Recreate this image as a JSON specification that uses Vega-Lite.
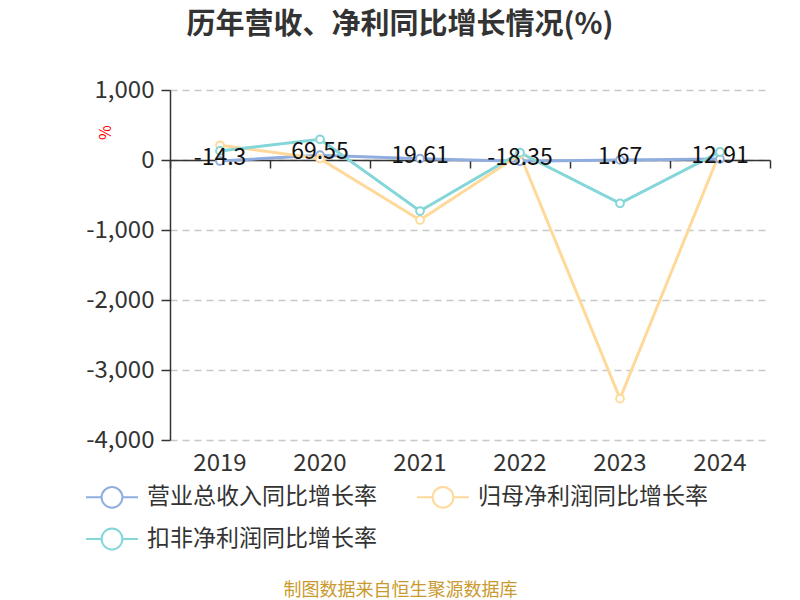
{
  "$schema": "https://vega.github.io/schema/vega-lite/v6.json",
  "width": 600,
  "height": 350,
  "autosize": {"type": "none"},
  "padding": {"left": 170, "top": 90, "right": 30, "bottom": 160},
  "background": "white",
  "config": {"font": "Noto Sans CJK SC", "view": {"stroke": null}},
  "title": {"text": "历年营收、净利同比增长情况(%)", "fontSize": 29, "fontWeight": "bold", "color": "#333333", "dx": -70, "offset": 38, "anchor": "middle"},
  "data": {"values": [
    {"year": "2019", "series": "营业总收入同比增长率", "value": -14.3},
    {"year": "2020", "series": "营业总收入同比增长率", "value": 69.55},
    {"year": "2021", "series": "营业总收入同比增长率", "value": 19.61},
    {"year": "2022", "series": "营业总收入同比增长率", "value": -18.35},
    {"year": "2023", "series": "营业总收入同比增长率", "value": 1.67},
    {"year": "2024", "series": "营业总收入同比增长率", "value": 12.91},
    {"year": "2019", "series": "归母净利润同比增长率", "value": 210},
    {"year": "2020", "series": "归母净利润同比增长率", "value": 20},
    {"year": "2021", "series": "归母净利润同比增长率", "value": -857},
    {"year": "2022", "series": "归母净利润同比增长率", "value": 80},
    {"year": "2023", "series": "归母净利润同比增长率", "value": -3409},
    {"year": "2024", "series": "归母净利润同比增长率", "value": 115},
    {"year": "2019", "series": "扣非净利润同比增长率", "value": 130},
    {"year": "2020", "series": "扣非净利润同比增长率", "value": 295},
    {"year": "2021", "series": "扣非净利润同比增长率", "value": -729},
    {"year": "2022", "series": "扣非净利润同比增长率", "value": 105},
    {"year": "2023", "series": "扣非净利润同比增长率", "value": -619},
    {"year": "2024", "series": "扣非净利润同比增长率", "value": 115}
  ]},
  "resolve": {"axis": {"x": "independent"}},
  "layer": [
    {
      "mark": {"type": "line", "strokeWidth": 3},
      "encoding": {
        "x": {"field": "year", "type": "ordinal", "scale": {"paddingInner": 0, "paddingOuter": 0},
          "axis": {"orient": "bottom", "title": "制图数据来自恒生聚源数据库", "titleColor": "#c99a2e", "titleFontSize": 18, "titleFontWeight": "normal", "titlePadding": 106, "titleX": 230, "labelAngle": 0, "labelFontSize": 24, "labelColor": "#333333", "labelPadding": 11, "domain": false, "ticks": false}},
        "y": {"field": "value", "type": "quantitative", "scale": {"domain": [-4000, 1000], "nice": false},
          "axis": {"values": [-4000, -3000, -2000, -1000, 0, 1000], "labelExpr": "replace(format(datum.value, ',.0f'), '−', '-')", "title": "%", "titleColor": "#ff0000", "titleFontSize": 16, "titleFontWeight": "normal", "titleX": -65, "titleY": 42, "titleAngle": 270, "titleAlign": "center", "titleBaseline": "middle", "labelFontSize": 24, "labelColor": "#333333", "labelPadding": 7, "domainColor": "#333333", "domainWidth": 1.5, "tickColor": "#333333", "tickSize": 9, "tickWidth": 1.5, "gridColor": "#c8c8c8", "gridDash": [7, 5], "gridWidth": 1.5}},
        "color": {"field": "series", "type": "nominal",
          "scale": {"domain": ["营业总收入同比增长率", "归母净利润同比增长率", "扣非净利润同比增长率"], "range": ["#90ade0", "#ffd99a", "#84d6d9"]},
          "legend": {"title": null, "orient": "none", "direction": "horizontal", "legendX": -85, "legendY": 380, "columns": 2, "columnPadding": 36, "rowPadding": 0, "labelFontSize": 23, "labelLimit": 0, "labelColor": "#333333", "symbolType": "M-1,0L-0.4,0M0.4,0L1,0M-0.4,0A0.4,0.4,0,1,1,0.4,0A0.4,0.4,0,1,1,-0.4,0", "symbolSize": 2704, "symbolStrokeWidth": 2, "symbolFillColor": "white", "labelOffset": 8}}
      }
    },
    {
      "mark": {"type": "point", "filled": true, "fill": "white", "size": 60, "strokeWidth": 2, "opacity": 1},
      "encoding": {
        "x": {"field": "year", "type": "ordinal", "axis": {"orient": "bottom", "offset": -280, "labels": false, "title": null, "domain": true, "domainColor": "#333333", "domainWidth": 1.5, "ticks": true, "tickBand": "extent", "tickSize": 8, "tickColor": "#333333", "tickWidth": 1.5, "grid": false}},
        "y": {"field": "value", "type": "quantitative"},
        "stroke": {"field": "series", "type": "nominal", "scale": {"domain": ["营业总收入同比增长率", "归母净利润同比增长率", "扣非净利润同比增长率"], "range": ["#90ade0", "#ffd99a", "#84d6d9"]}, "legend": null}
      }
    },
    {
      "transform": [{"filter": "datum.series == '营业总收入同比增长率'"}],
      "mark": {"type": "text", "fontSize": 23, "color": "#111111", "baseline": "middle", "dy": -3},
      "encoding": {
        "x": {"field": "year", "type": "ordinal", "axis": null},
        "y": {"field": "value", "type": "quantitative"},
        "text": {"field": "value", "type": "nominal"}
      }
    }
  ]
}
